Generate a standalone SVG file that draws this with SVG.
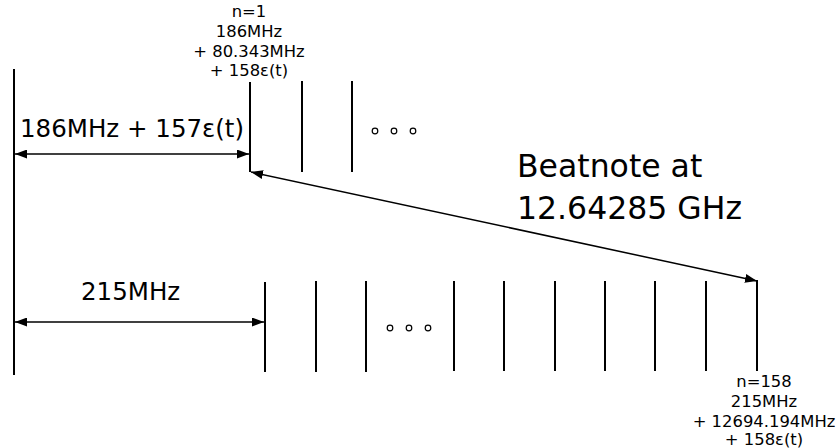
<svg xmlns="http://www.w3.org/2000/svg" width="840" height="448" viewBox="0 0 840 448">
  <style>
    .tick { stroke: #000; stroke-width: 2; fill: none; }
    .conn { stroke: #000; stroke-width: 1.5; fill: none; }
    .dot { stroke: #000; stroke-width: 1.2; fill: #fff; }
    text { font-family: "DejaVu Sans", Verdana, sans-serif; fill: #000; }
    .small { font-size: 16.4px; text-anchor: middle; }
    .mid { font-size: 24.5px; }
    .big { font-size: 31.5px; }
  </style>
  <defs>
    <marker id="ah" viewBox="0 0 12 9" refX="12" refY="4.5" markerWidth="12" markerHeight="9" markerUnits="userSpaceOnUse" orient="auto-start-reverse">
      <path d="M0,0 L12,4.5 L0,9 z" fill="#000"/>
    </marker>
  </defs>
  <rect width="840" height="448" fill="#fff"/>

  <g id="axis">
    <line class="tick" x1="14" y1="69" x2="14" y2="375"/>
  </g>

  <g id="comb-top">
    <line class="tick" x1="250" y1="82" x2="250" y2="172"/>
    <line class="tick" x1="302" y1="81" x2="302" y2="172"/>
    <line class="tick" x1="352" y1="81" x2="352" y2="172"/>
    <circle class="dot" cx="375" cy="131" r="2.8"/>
    <circle class="dot" cx="394" cy="131" r="2.8"/>
    <circle class="dot" cx="413" cy="131" r="2.8"/>
  </g>

  <g id="label-n1">
    <text class="small" x="249" y="17">n=1</text>
    <text class="small" x="249" y="37">186MHz</text>
    <text class="small" x="249" y="57">+ 80.343MHz</text>
    <text class="small" x="249" y="76">+ 158ε(t)</text>
  </g>

  <g id="comb-bottom">
    <line class="tick" x1="265" y1="282" x2="265" y2="372"/>
    <line class="tick" x1="316" y1="281" x2="316" y2="372"/>
    <line class="tick" x1="366" y1="281" x2="366" y2="372"/>
    <circle class="dot" cx="390" cy="328" r="2.8"/>
    <circle class="dot" cx="409" cy="328" r="2.8"/>
    <circle class="dot" cx="428" cy="328" r="2.8"/>
    <line class="tick" x1="454" y1="281" x2="454" y2="371"/>
    <line class="tick" x1="504" y1="281" x2="504" y2="371"/>
    <line class="tick" x1="555" y1="281" x2="555" y2="371"/>
    <line class="tick" x1="605" y1="281" x2="605" y2="371"/>
    <line class="tick" x1="655" y1="281" x2="655" y2="371"/>
    <line class="tick" x1="706" y1="281" x2="706" y2="371"/>
    <line class="tick" x1="757" y1="280" x2="757" y2="371"/>
  </g>

  <g id="label-n158">
    <text class="small" x="764" y="387">n=158</text>
    <text class="small" x="764" y="407">215MHz</text>
    <text class="small" x="764" y="427">+ 12694.194MHz</text>
    <text class="small" x="764" y="445">+ 158ε(t)</text>
  </g>

  <g id="connectors">
    <line class="conn" x1="15" y1="154" x2="249" y2="154" marker-start="url(#ah)" marker-end="url(#ah)"/>
    <line class="conn" x1="15" y1="322" x2="264" y2="322" marker-start="url(#ah)" marker-end="url(#ah)"/>
    <line class="conn" x1="251" y1="172" x2="757" y2="281" marker-start="url(#ah)" marker-end="url(#ah)"/>
  </g>

  <g id="labels">
    <text class="mid" x="20" y="137">186MHz + 157ε(t)</text>
    <text class="mid" x="81" y="300">215MHz</text>
    <text class="big" x="517" y="177">Beatnote at</text>
    <text class="big" x="517" y="219">12.64285 GHz</text>
  </g>
</svg>
